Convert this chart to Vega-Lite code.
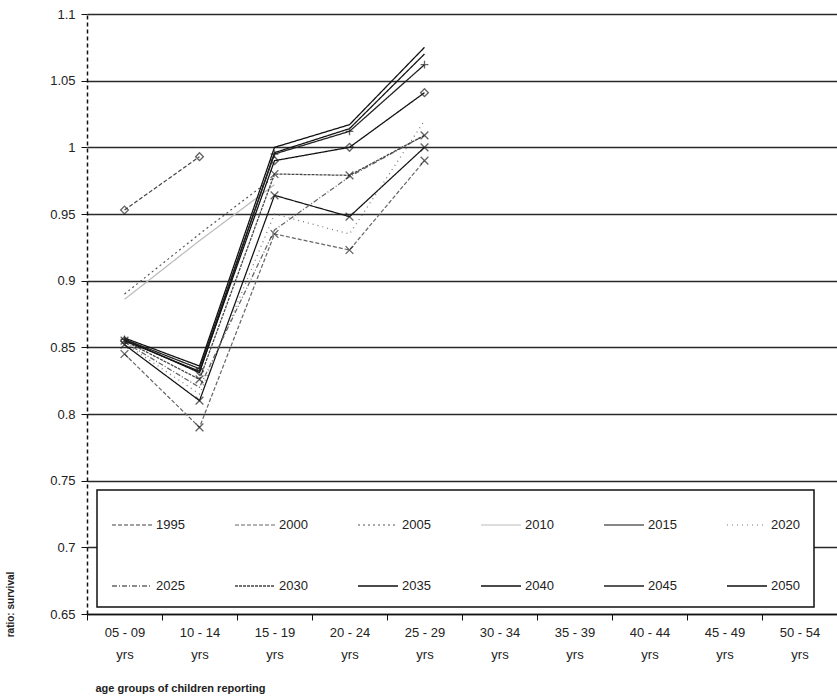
{
  "$schema": "https://vega.github.io/schema/vega-lite/v6.json",
  "width": 750,
  "height": 600,
  "autosize": {"type": "none"},
  "padding": {"left": 87, "top": 14, "right": 0, "bottom": 84},
  "background": "white",
  "config": {
    "view": {"stroke": null},
    "font": "Liberation Sans",
    "legend": {
      "orient": "none",
      "legendX": 10,
      "legendY": 476,
      "columns": 6,
      "direction": "horizontal",
      "strokeColor": "#111",
      "strokeWidth": 1.5,
      "fillColor": "white",
      "padding": 14,
      "symbolType": "stroke",
      "symbolSize": 1600,
      "labelFont": "Liberation Sans",
      "labelFontSize": 13,
      "labelColor": "#222",
      "labelOffset": 3,
      "columnPadding": 47,
      "rowPadding": 33
    }
  },
  "data": {
    "values": [
      {"age": "05 - 09", "year": "1995", "v": 0.953},
      {"age": "10 - 14", "year": "1995", "v": 0.993},
      {"age": "05 - 09", "year": "2000", "v": 0.845},
      {"age": "10 - 14", "year": "2000", "v": 0.79},
      {"age": "15 - 19", "year": "2000", "v": 0.935},
      {"age": "20 - 24", "year": "2000", "v": 0.923},
      {"age": "25 - 29", "year": "2000", "v": 0.99},
      {"age": "05 - 09", "year": "2005", "v": 0.89},
      {"age": "10 - 14", "year": "2005", "v": 0.935},
      {"age": "15 - 19", "year": "2005", "v": 0.978},
      {"age": "05 - 09", "year": "2010", "v": 0.886},
      {"age": "10 - 14", "year": "2010", "v": 0.93},
      {"age": "15 - 19", "year": "2010", "v": 0.972},
      {"age": "05 - 09", "year": "2015", "v": 0.852},
      {"age": "10 - 14", "year": "2015", "v": 0.81},
      {"age": "15 - 19", "year": "2015", "v": 0.964},
      {"age": "20 - 24", "year": "2015", "v": 0.948},
      {"age": "25 - 29", "year": "2015", "v": 1.0},
      {"age": "05 - 09", "year": "2020", "v": 0.853},
      {"age": "10 - 14", "year": "2020", "v": 0.815},
      {"age": "15 - 19", "year": "2020", "v": 0.95},
      {"age": "20 - 24", "year": "2020", "v": 0.935},
      {"age": "25 - 29", "year": "2020", "v": 1.02},
      {"age": "05 - 09", "year": "2025", "v": 0.854},
      {"age": "10 - 14", "year": "2025", "v": 0.82},
      {"age": "15 - 19", "year": "2025", "v": 0.938},
      {"age": "20 - 24", "year": "2025", "v": 0.978},
      {"age": "25 - 29", "year": "2025", "v": 1.009},
      {"age": "05 - 09", "year": "2030", "v": 0.855},
      {"age": "10 - 14", "year": "2030", "v": 0.826},
      {"age": "15 - 19", "year": "2030", "v": 0.98},
      {"age": "20 - 24", "year": "2030", "v": 0.979},
      {"age": "25 - 29", "year": "2030", "v": 1.009},
      {"age": "05 - 09", "year": "2035", "v": 0.856},
      {"age": "10 - 14", "year": "2035", "v": 0.831},
      {"age": "15 - 19", "year": "2035", "v": 0.996},
      {"age": "20 - 24", "year": "2035", "v": 1.014},
      {"age": "25 - 29", "year": "2035", "v": 1.07},
      {"age": "05 - 09", "year": "2040", "v": 0.855},
      {"age": "10 - 14", "year": "2040", "v": 0.832},
      {"age": "15 - 19", "year": "2040", "v": 0.99},
      {"age": "20 - 24", "year": "2040", "v": 1.0},
      {"age": "25 - 29", "year": "2040", "v": 1.041},
      {"age": "05 - 09", "year": "2045", "v": 0.856},
      {"age": "10 - 14", "year": "2045", "v": 0.834},
      {"age": "15 - 19", "year": "2045", "v": 0.995},
      {"age": "20 - 24", "year": "2045", "v": 1.012},
      {"age": "25 - 29", "year": "2045", "v": 1.062},
      {"age": "05 - 09", "year": "2050", "v": 0.857},
      {"age": "10 - 14", "year": "2050", "v": 0.836},
      {"age": "15 - 19", "year": "2050", "v": 1.0},
      {"age": "20 - 24", "year": "2050", "v": 1.017},
      {"age": "25 - 29", "year": "2050", "v": 1.075}
    ]
  },
  "encoding": {
    "x": {
      "field": "age",
      "type": "nominal",
      "bandPosition": 0.5,
      "sort": null,
      "scale": {
        "type": "band",
        "domain": ["05 - 09", "10 - 14", "15 - 19", "20 - 24", "25 - 29", "30 - 34", "35 - 39", "40 - 44", "45 - 49", "50 - 54"],
        "paddingInner": 0,
        "paddingOuter": 0
      },
      "axis": {
        "title": "age groups of children reporting",
        "titleFont": "Liberation Sans",
        "titleFontSize": 11,
        "titleFontWeight": "bold",
        "titleColor": "#222",
        "titleAnchor": "start",
        "titleAlign": "left",
        "titleBaseline": "middle",
        "titleX": 8,
        "titleY": 74,
        "labelAngle": 0,
        "labelExpr": "datum.label ? [datum.label, 'yrs'] : ''",
        "labelFontSize": 13,
        "labelColor": "#222",
        "labelPadding": 6,
        "labelLineHeight": 22,
        "tickBand": "extent",
        "tickColor": "#111",
        "tickSize": 6,
        "domainColor": "#111",
        "domainWidth": 1.5,
        "grid": false
      }
    },
    "y": {
      "field": "v",
      "type": "quantitative",
      "scale": {"domain": [0.65, 1.1], "nice": false, "zero": false},
      "axis": {
        "values": [0.65, 0.7, 0.75, 0.8, 0.85, 0.9, 0.95, 1.0, 1.05, 1.1],
        "format": ".2~f",
        "title": "ratio: survival",
        "titleFont": "Liberation Sans",
        "titleFontSize": 10,
        "titleFontWeight": "bold",
        "titleColor": "#222",
        "titleAngle": 270,
        "titleAlign": "center",
        "titleBaseline": "middle",
        "titleX": -77,
        "titleY": 590,
        "labelFontSize": 13,
        "labelColor": "#222",
        "labelPadding": 6,
        "grid": true,
        "gridColor": "#2a2a2a",
        "gridWidth": 1.4,
        "domainColor": "#111",
        "domainDash": [4, 3],
        "domainWidth": 1.5,
        "tickColor": "#111",
        "tickSize": 6
      }
    }
  },
  "layer": [
    {
      "mark": {"type": "line"},
      "encoding": {
        "detail": {"field": "year"},
        "color": {
          "field": "year",
          "type": "nominal",
          "title": null,
          "scale": {
            "domain": ["1995", "2000", "2005", "2010", "2015", "2020", "2025", "2030", "2035", "2040", "2045", "2050"],
            "range": ["#444", "#666", "#555", "#bbb", "#111", "#777", "#666", "#444", "#111", "#111", "#222", "#111"]
          }
        },
        "strokeDash": {
          "field": "year",
          "type": "nominal",
          "title": null,
          "scale": {
            "domain": ["1995", "2000", "2005", "2010", "2015", "2020", "2025", "2030", "2035", "2040", "2045", "2050"],
            "range": [[4, 2], [4, 2], [2, 3], [1, 0], [1, 0], [1, 4], [5, 2, 1, 2], [3, 1], [1, 0], [1, 0], [1, 0], [1, 0]]
          }
        },
        "strokeWidth": {
          "field": "year",
          "type": "nominal",
          "title": null,
          "scale": {
            "domain": ["1995", "2000", "2005", "2010", "2015", "2020", "2025", "2030", "2035", "2040", "2045", "2050"],
            "range": [1.2, 1.3, 1.3, 2, 1.5, 1.3, 1.3, 1.5, 2.5, 1.8, 1.5, 1.8]
          }
        }
      }
    },
    {
      "mark": {"type": "point", "filled": false, "color": "#222", "size": 60, "strokeWidth": 1.3},
      "transform": [{"filter": {"field": "year", "oneOf": ["1995", "2000", "2015", "2030", "2040", "2045"]}}],
      "encoding": {
        "shape": {
          "field": "year",
          "type": "nominal",
          "legend": null,
          "scale": {
            "domain": ["1995", "2000", "2015", "2030", "2040", "2045"],
            "range": ["diamond", "M-1,-1L1,1M-1,1L1,-1", "M-1,-1L1,1M-1,1L1,-1", "M-1,-1L1,1M-1,1L1,-1", "diamond", "M-1,0L1,0M0,-1L0,1"]
          }
        }
      }
    }
  ]
}
